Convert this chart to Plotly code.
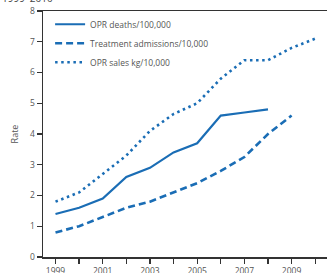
import plotly.graph_objects as go

years_deaths = [1999, 2000, 2001, 2002, 2003, 2004, 2005, 2006, 2007, 2008]
deaths = [1.4, 1.6, 1.9, 2.6, 2.9, 3.4, 3.7, 4.6, 4.7, 4.8]

years_treat = [1999, 2000, 2001, 2002, 2003, 2004, 2005, 2006, 2007, 2008, 2009]
treatment = [0.8, 1.0, 1.3, 1.6, 1.8, 2.1, 2.4, 2.8, 3.25, 4.0, 4.6]

years_sales = [1999, 2000, 2001, 2002, 2003, 2004, 2005, 2006, 2007, 2008, 2009, 2010]
sales = [1.8, 2.1, 2.7, 3.3, 4.1, 4.65, 5.0, 5.8, 6.4, 6.4, 6.8, 7.1]

x_tickvals = [1999, 2001, 2003, 2005, 2007, 2009]
y_tickvals = [0, 1, 2, 3, 4, 5, 6, 7, 8]

BLUE = "#1a6db5"
FONT = "Open Sans"

fig = go.Figure()
fig.add_trace(go.Scatter(x=years_deaths, y=deaths, mode="lines", name="OPR deaths/100,000",
                         line=dict(color=BLUE, width=2.2)))
fig.add_trace(go.Scatter(x=years_treat, y=treatment, mode="lines", name="Treatment admissions/10,000",
                         line=dict(color=BLUE, width=2.6, dash="7px,4px")))
fig.add_trace(go.Scatter(x=years_sales, y=sales, mode="lines", name="OPR sales kg/10,000",
                         line=dict(color=BLUE, width=2.6, dash="2.5px,3.6px")))

fig.update_layout(
    template="none",
    width=327, height=273,
    margin=dict(l=43, r=0, t=11, b=16, autoexpand=False),
    paper_bgcolor="white", plot_bgcolor="white",
    font=dict(family=FONT, size=9, color="#555"),
    showlegend=True,
    legend=dict(x=0.025, y=1.005, xanchor="left", yanchor="top",
                bgcolor="rgba(0,0,0,0)", font=dict(size=8.5, color="#555"),
                tracegroupgap=0, itemwidth=30),
    xaxis=dict(range=[1998.47, 2010.5], tickmode="array", tickvals=list(range(1999, 2011)),
               ticktext=[str(y) if y in x_tickvals else "" for y in range(1999, 2011)],
               showgrid=False, zeroline=False, showline=True, linecolor="#333", linewidth=1.5,
               ticks="outside", ticklen=5, tickwidth=1.3, tickcolor="#333", mirror=True,
               tickfont=dict(size=8.5, color="#555"), automargin=False),
    yaxis=dict(range=[0, 8], tickvals=y_tickvals, showgrid=False, zeroline=False,
               showline=True, linecolor="#333", linewidth=1.5,
               ticks="outside", ticklen=5, tickwidth=1.3, tickcolor="#333",
               tickfont=dict(size=8.5, color="#555"), automargin=False,
               title=dict(text="Rate", font=dict(size=9, color="#555"), standoff=10)),
    annotations=[dict(text="1999–2010", xref="paper", yref="paper", x=0, y=1,
                      xanchor="left", yanchor="bottom", xshift=-43, yshift=4,
                      showarrow=False, font=dict(size=10, color="#444"))],
)

fig.write_html("out.html", config={"displayModeBar": False, "staticPlot": True},
               post_script="document.body.style.margin='0';document.body.style.overflow='hidden';")
